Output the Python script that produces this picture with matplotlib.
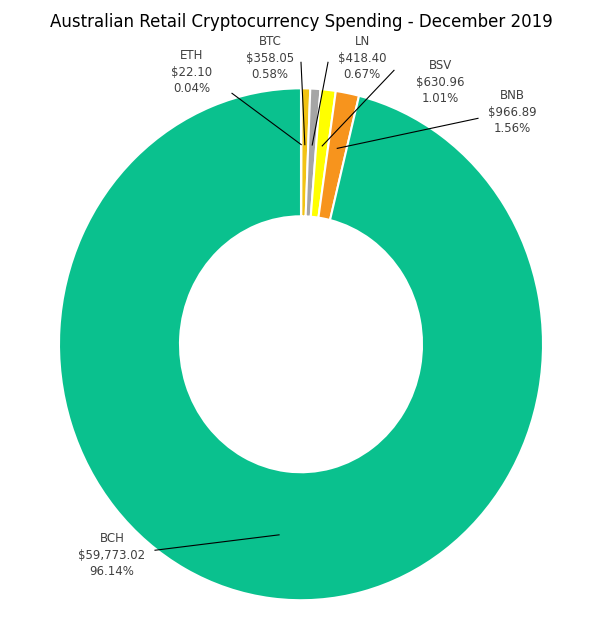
import numpy as np
import matplotlib.pyplot as plt

names = ["ETH", "BTC", "LN", "BSV", "BNB", "BCH"]
amounts = [22.10, 358.05, 418.40, 630.96, 966.89, 59773.02]
pcts = ["0.04%", "0.58%", "0.67%", "1.01%", "1.56%", "96.14%"]
colors = ["#4472c4", "#f2c314", "#a5a5a5", "#ffff00", "#f7941d", "#0ac18e"]

fig = plt.figure(figsize=(6.02, 6.22), dpi=100)
# ring is slightly taller than wide in the reference
ax = fig.add_axes([0.098, 0.035, 0.804, 0.823])
wedges, _ = ax.pie(amounts, colors=colors, startangle=90, counterclock=False,
                   radius=1.0, wedgeprops=dict(width=0.5, edgecolor="white", linewidth=1.5))
ax.set_xlim(-1, 1)
ax.set_ylim(-1, 1)
ax.set_aspect("auto")
ax.axis("off")

def px(x, y):
    return ((x - 301) / 242, (344 - y) / 256)

label_pos = {"ETH": (192, 72), "BTC": (270, 58), "LN": (362, 58),
             "BSV": (440, 82), "BNB": (512, 112), "BCH": (112, 555)}
ends = {"ETH": (232, 93), "BTC": (301, 62), "LN": (328, 62),
        "BSV": (394, 70), "BNB": (478, 118), "BCH": (155, 550)}
radii = {"ETH": 0.78, "BTC": 0.78, "LN": 0.78, "BSV": 0.78, "BNB": 0.78, "BCH": 0.75}

for w, n, a, p in zip(wedges, names, amounts, pcts):
    ang = np.deg2rad((w.theta1 + w.theta2) / 2)
    r = radii[n]
    tx, ty = px(*label_pos[n])
    ex, ey = px(*ends[n])
    ax.annotate(f"{n}\n${a:,.2f}\n{p}", xy=(r * np.cos(ang), r * np.sin(ang)),
                xytext=(tx, ty), ha="center", va="center", fontsize=8.5,
                color="#404040", linespacing=1.35, annotation_clip=False)
    ax.plot([ex, r * np.cos(ang)], [ey, r * np.sin(ang)], color="black", lw=0.8, clip_on=False)

fig.text(0.5, 0.965, "Australian Retail Cryptocurrency Spending - December 2019",
         ha="center", va="center", fontsize=12, color="black")
fig.savefig("out.png", dpi=100)
